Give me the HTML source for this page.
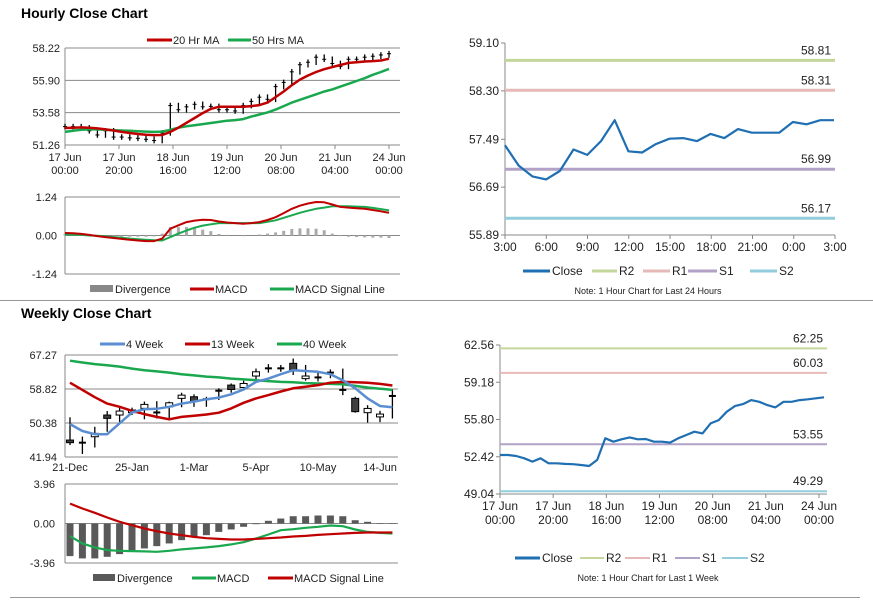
<!DOCTYPE html>
<html><head><meta charset="utf-8">
<style>
body{margin:0;background:#fff;width:873px;height:601px;overflow:hidden;font-family:"Liberation Sans",Arial,sans-serif}
svg{position:absolute;left:0;top:0}
text{font-family:"Liberation Sans",Arial,sans-serif}
</style></head>
<body>
<svg id="s" width="873" height="601">
<text x="21" y="18" font-size="14" font-weight="bold">Hourly Close Chart</text>
<text x="21" y="318" font-size="14" font-weight="bold">Weekly Close Chart</text>
<line x1="0" y1="300.5" x2="873" y2="300.5" stroke="#999"/>
<line x1="10" y1="597.5" x2="860" y2="597.5" stroke="#999"/>
</svg>
<script>
// ---- data ----
const weekClose=[52.58,52.58,52.49,52.28,51.98,52.28,51.83,51.83,51.77,51.74,51.67,51.58,52.13,54.09,53.79,54.0,54.18,54.0,54.03,53.79,53.79,53.70,54.09,54.39,54.69,54.54,55.45,55.75,56.51,57.02,57.20,57.56,57.41,57.11,56.90,57.41,57.41,57.56,57.63,57.72,57.81];
const ma20=[52.48,52.5,52.52,52.5,52.45,52.38,52.3,52.2,52.12,52.05,52.0,51.97,51.98,52.2,52.5,52.85,53.2,53.55,53.85,54.0,54.0,54.0,54.0,54.05,54.12,54.3,54.7,55.1,55.55,55.95,56.25,56.5,56.7,56.85,57.0,57.15,57.2,57.25,57.28,57.32,57.45];
const ma50=[52.2,52.28,52.35,52.38,52.38,52.35,52.32,52.3,52.28,52.25,52.22,52.2,52.22,52.35,52.5,52.6,52.68,52.76,52.84,52.92,53.0,53.05,53.12,53.3,53.45,53.6,53.8,54.05,54.3,54.5,54.7,54.9,55.1,55.25,55.45,55.65,55.85,56.05,56.3,56.5,56.72];
const hMacd=[0.08,0.07,0.05,0.02,-0.02,-0.05,-0.08,-0.11,-0.14,-0.16,-0.18,-0.18,-0.1,0.22,0.33,0.43,0.48,0.51,0.5,0.45,0.42,0.4,0.38,0.4,0.43,0.5,0.59,0.72,0.86,0.96,1.03,1.08,1.07,1.0,0.92,0.9,0.88,0.86,0.82,0.78,0.73];
const hSignal=[0.03,0.03,0.02,0.0,-0.01,-0.03,-0.05,-0.07,-0.1,-0.12,-0.14,-0.15,-0.16,-0.05,0.06,0.16,0.25,0.32,0.36,0.4,0.4,0.4,0.4,0.4,0.4,0.44,0.49,0.57,0.65,0.73,0.8,0.86,0.9,0.94,0.94,0.94,0.93,0.92,0.89,0.85,0.81];
const hTicks=["17 Jun|00:00","17 Jun|20:00","18 Jun|16:00","19 Jun|12:00","20 Jun|08:00","21 Jun|04:00","24 Jun|00:00"];
const hY=[58.22,55.90,53.58,51.26];
const hMY=[1.24,0.00,-1.24];

const dayClose=[57.39,57.05,56.87,56.82,56.96,57.32,57.23,57.46,57.81,57.29,57.27,57.41,57.50,57.51,57.46,57.58,57.51,57.66,57.60,57.60,57.60,57.78,57.74,57.81,57.81];
const dayTicks=["3:00","6:00","9:00","12:00","15:00","18:00","21:00","0:00","3:00"];
const dayY=[59.10,58.30,57.49,56.69,55.89];
const dayLevels=[58.81,58.31,56.99,56.17];

const wkOpen=[46.15,45.5,46.97,52.36,52.36,52.95,54.02,53.0,54.4,56.5,56.9,56.3,58.4,59.8,59.2,62.05,63.96,63.96,65.2,61.4,61.7,62.9,58.6,56.5,52.95,51.9,57.1];
const wkClose=[45.5,45.5,47.81,51.53,53.35,53.6,55.0,53.0,55.4,57.3,55.7,56.3,58.4,58.7,60.2,63.1,63.96,63.96,63.5,62.05,61.7,62.9,58.6,53.2,54.0,52.6,57.1];
const wkHigh=[51.8,47.0,49.45,53.35,54.6,54.2,55.7,55.8,55.7,57.9,57.5,56.9,59.0,60.2,60.9,63.9,65.0,64.8,66.4,64.8,63.1,63.7,63.9,56.9,54.8,53.4,58.7];
const wkLow=[44.9,42.7,44.3,48.2,50.3,52.36,51.3,51.5,51.5,54.3,54.4,54.4,56.1,57.9,58.6,61.0,62.9,63.1,62.3,60.9,60.7,61.5,57.3,52.95,50.5,50.6,51.5];
const ma4=[50.1,48.4,47.6,47.6,50.3,53.0,53.8,53.9,54.4,55.2,55.7,56.3,56.7,57.5,58.7,60.6,61.4,62.5,63.5,63.3,63.1,62.5,61.0,59.0,56.5,54.6,54.3];
const ma13=[60.4,58.6,56.8,55.2,54.4,53.4,52.6,51.9,51.3,51.9,52.2,52.5,52.95,54.0,55.4,56.5,57.3,58.2,59.0,59.4,59.8,60.4,60.6,60.5,60.4,60.1,59.7];
const ma40=[65.85,65.4,65.0,64.7,64.4,63.9,63.5,63.2,62.9,62.5,62.2,61.9,61.7,61.4,61.2,61.0,60.8,60.6,60.5,60.3,60.2,60.1,60.0,59.6,59.2,58.9,58.6];
const wDiv=[-3.27,-3.5,-3.5,-3.34,-3.07,-2.67,-2.5,-2.27,-2.0,-1.67,-1.4,-1.17,-0.84,-0.6,-0.33,-0.07,0.27,0.5,0.73,0.73,0.8,0.8,0.73,0.33,0.17,0.02,-0.03];
const wMacd=[-1.27,-2.0,-2.4,-2.67,-2.74,-2.77,-2.8,-2.84,-2.74,-2.6,-2.5,-2.4,-2.27,-2.1,-1.87,-1.5,-1.1,-0.67,-0.57,-0.43,-0.33,-0.2,-0.27,-0.6,-0.84,-0.94,-1.0];
const wSignal=[2.0,1.5,1.07,0.6,0.17,-0.17,-0.5,-0.77,-1.0,-1.17,-1.34,-1.47,-1.54,-1.6,-1.6,-1.54,-1.47,-1.4,-1.3,-1.24,-1.14,-1.07,-1.0,-0.94,-0.9,-0.9,-0.9];
const wTicks=["21-Dec","25-Jan","1-Mar","5-Apr","10-May","14-Jun"];
const wY=[67.27,58.82,50.38,41.94];
const wMY=[3.96,0.00,-3.96];

const wk1Close=weekClose;
const wk1Y=[62.56,59.18,55.80,52.42,49.04];
const wk1Levels=[62.25,60.03,53.55,49.29];

// ---- helpers ----
const S=document.getElementById('s');const NS='http://www.w3.org/2000/svg';
function mk(tag,attrs,name,txt){const e=document.createElementNS(NS,tag);for(const k in attrs)e.setAttribute(k,attrs[k]);


if(txt!==undefined)e.textContent=txt;S.appendChild(e);return e;}
function lin(v0,v1,p0,p1){return v=>p0+(v-v0)*(p1-p0)/(v1-v0);}
function poly(arr,X,Y,color,w,name){mk('polyline',{points:arr.map((v,i)=>X(i).toFixed(1)+','+Y(v).toFixed(1)).join(' '),fill:'none',stroke:color,'stroke-width':w,'stroke-linejoin':'round'},name);}
function legLine(x1,x2,y,c,w,label,name){mk('line',{x1:x1,x2:x2,y1:y,y2:y,stroke:c,'stroke-width':w},name+'-swatch');mk('text',{x:x2+1,y:y+4,'font-size':11,fill:'#222'},name+'-label',label);}
const GRID='#888';

// ===== Hourly (top-left) =====
{const X=i=>65+i*8.1,Y=lin(58.22,51.26,48,145);
hY.forEach(v=>{mk('line',{x1:65,x2:400,y1:Y(v),y2:Y(v),stroke:GRID,'stroke-width':1},'hourly-gridline');mk('text',{x:60,y:Y(v)+4,'font-size':11,'text-anchor':'end',fill:'#222'},'hourly-y-tick',v.toFixed(2));});
mk('line',{x1:65,x2:65,y1:48,y2:145,stroke:GRID},'hourly-y-axis');
hTicks.forEach((t,i)=>{const x=65+i*54;mk('line',{x1:x,x2:x,y1:145,y2:149,stroke:GRID},'hourly-x-tick');const p=t.split('|');mk('text',{x:x,y:161,'font-size':11,'text-anchor':'middle',fill:'#222'},'hourly-x-label',p[0]);mk('text',{x:x,y:174,'font-size':11,'text-anchor':'middle',fill:'#222'},'hourly-x-label',p[1]);});
weekClose.forEach((v,i)=>{const p=i>0?weekClose[i-1]:v;mk('line',{x1:X(i),x2:X(i),y1:Y(Math.max(p,v)+0.2),y2:Y(Math.min(p,v)-0.2),stroke:'#000','stroke-width':1.3},'hourly-candle');mk('line',{x1:X(i)-2,x2:X(i)+2,y1:Y(v),y2:Y(v),stroke:'#000','stroke-width':1},'hourly-candle-close');});
poly(ma50,X,Y,'#1aa84f',2.5,'ma50-line');poly(ma20,X,Y,'#c00000',2.5,'ma20-line');
legLine(147,172,40,'#c00000',3,'20 Hr MA','legend-ma20');legLine(228,251,40,'#1aa84f',3,'50 Hrs MA','legend-ma50');
const MY=lin(1.24,-1.24,197,274);
hMY.forEach(v=>{mk('line',{x1:65,x2:400,y1:MY(v),y2:MY(v),stroke:GRID},'hourly-macd-gridline');mk('text',{x:57,y:MY(v)+4,'font-size':11,'text-anchor':'end',fill:'#222'},'hourly-macd-y-tick',v.toFixed(2));});
mk('line',{x1:65,x2:65,y1:197,y2:274,stroke:GRID},'hourly-macd-y-axis');
hMacd.forEach((v,i)=>{const d=v-hSignal[i];mk('rect',{x:X(i)-1.5,y:Math.min(MY(0),MY(d)),width:3,height:Math.abs(MY(d)-MY(0)),fill:'#aaa'},'hourly-divergence-bar');});
poly(hSignal,X,MY,'#1aa84f',2,'hourly-signal-line');poly(hMacd,X,MY,'#c00000',2,'hourly-macd-line');
mk('rect',{x:90,y:285,width:23,height:7,fill:'#888'},'legend-divergence-swatch');mk('text',{x:115,y:293,'font-size':11,fill:'#222'},'legend-divergence-label','Divergence');
legLine(190,214,289,'#c00000',3,'MACD','legend-macd');legLine(270,294,289,'#1aa84f',3,'MACD Signal Line','legend-signal');}

// ===== level charts =====
function levelChart(pre,ax,right,ticksY,close,levels,xLabels,xStep,yTop,yBot,dec){
const Y=lin(ticksY[0],ticksY[ticksY.length-1],yTop,yBot),X=i=>ax+i*xStep;
ticksY.forEach(v=>{mk('text',{x:ax-6,y:Y(v)+4,'font-size':12,'text-anchor':'end',fill:'#222'},pre+'-y-tick',v.toFixed(2));mk('line',{x1:ax-4,x2:ax,y1:Y(v),y2:Y(v),stroke:GRID},pre+'-y-tickmark');});
mk('line',{x1:ax,x2:ax,y1:yTop,y2:yBot,stroke:GRID},pre+'-y-axis');mk('line',{x1:ax,x2:right,y1:yBot,y2:yBot,stroke:GRID},pre+'-x-axis');
const cols=['#c4d79b','#e6b9b8','#b3a2c7','#93cddd'],nm=['r2','r1','s1','s2'];
levels.forEach((v,k)=>{mk('line',{x1:ax,x2:right,y1:Y(v),y2:Y(v),stroke:cols[k],'stroke-width':dec?3:2},pre+'-'+nm[k]+'-line');mk('text',{x:right-4,y:Y(v)-6,'font-size':12,'text-anchor':'end',fill:'#222'},pre+'-'+nm[k]+'-value',v.toFixed(2));});
xLabels.forEach((t,i)=>{const x=ax+i*(right-ax-(dec?0:8))/(xLabels.length-1);mk('line',{x1:x,x2:x,y1:yBot,y2:yBot+4,stroke:GRID},pre+'-x-tick');const p=t.split('|');mk('text',{x:x,y:yBot+16,'font-size':12,'text-anchor':'middle',fill:'#222'},pre+'-x-label',p[0]);if(p[1])mk('text',{x:x,y:yBot+30,'font-size':12,'text-anchor':'middle',fill:'#222'},pre+'-x-label',p[1]);});
poly(close,X,Y,'#1f6fb2',2.2,pre+'-close-line');
return Y;}
levelChart('day',505,835,dayY,dayClose,dayLevels,dayTicks,329/24,43,235,true);
[[523,550,'#1f6fb2','Close'],[592,617,'#c4d79b','R2'],[643,670,'#e6b9b8','R1'],[688,717,'#b3a2c7','S1'],[750,777,'#93cddd','S2']].forEach(l=>{mk('line',{x1:l[0],x2:l[1],y1:271,y2:271,stroke:l[2],'stroke-width':3},'day-legend-'+l[3].toLowerCase()+'-swatch');mk('text',{x:l[1]+2,y:275,'font-size':12,fill:'#222'},'day-legend-'+l[3].toLowerCase()+'-label',l[3]);});
mk('text',{x:648,y:294,'font-size':9,'text-anchor':'middle',fill:'#222'},'day-note','Note: 1 Hour Chart for Last 24 Hours');

levelChart('wk',500,827,wk1Y,wk1Close,wk1Levels,hTicks,8.1,345,494,false);
[[515,540,'#1f6fb2','Close'],[580,604,'#c4d79b','R2'],[625,650,'#e6b9b8','R1'],[675,700,'#b3a2c7','S1'],[722,748,'#93cddd','S2']].forEach(l=>{mk('line',{x1:l[0],x2:l[1],y1:558,y2:558,stroke:l[2],'stroke-width':l[3]=='Close'?3:2},'wk-legend-'+l[3].toLowerCase()+'-swatch');mk('text',{x:l[1]+2,y:562,'font-size':12,fill:'#222'},'wk-legend-'+l[3].toLowerCase()+'-label',l[3]);});
mk('text',{x:648,y:581,'font-size':9,'text-anchor':'middle',fill:'#222'},'wk-note','Note: 1 Hour Chart for Last 1 Week');

// ===== Weekly (bottom-left) =====
{const X=i=>70+i*12.4,Y=lin(67.27,41.94,355,457);
wY.forEach(v=>{mk('line',{x1:65,x2:398,y1:Y(v),y2:Y(v),stroke:GRID},'weekly-gridline');mk('text',{x:57,y:Y(v)+4,'font-size':11,'text-anchor':'end',fill:'#222'},'weekly-y-tick',v.toFixed(2));});
mk('line',{x1:65,x2:65,y1:355,y2:457,stroke:GRID},'weekly-y-axis');
wTicks.forEach((t,i)=>{mk('text',{x:X(i*5),y:471,'font-size':11,'text-anchor':'middle',fill:'#222'},'weekly-x-label',t);});
wkOpen.forEach((o,i)=>{const c=wkClose[i],x=X(i);mk('line',{x1:x,x2:x,y1:Y(wkHigh[i]),y2:Y(wkLow[i]),stroke:'#000','stroke-width':1.3},'weekly-candle-wick');
const h=Math.abs(Y(o)-Y(c));if(h<1.5)mk('line',{x1:x-3.5,x2:x+3.5,y1:Y(c),y2:Y(c),stroke:'#000','stroke-width':2},'weekly-candle-doji');
else mk('rect',{x:x-3.5,y:Math.min(Y(o),Y(c)),width:7,height:h,fill:c<o?'#404040':'#fff',stroke:'#000','stroke-width':1},'weekly-candle-body');});
poly(ma40,X,Y,'#1aa84f',2.5,'ma40-line');poly(ma13,X,Y,'#c00000',2.5,'ma13-line');poly(ma4,X,Y,'#5b8ed0',2.5,'ma4-line');
legLine(100,125,344,'#5b8ed0',3,'4 Week','legend-4week');legLine(185,210,344,'#c00000',3,'13 Week','legend-13week');legLine(277,302,344,'#1aa84f',3,'40 Week','legend-40week');
const MY=lin(3.96,-3.96,484,563);
wMY.forEach(v=>{mk('line',{x1:65,x2:398,y1:MY(v),y2:MY(v),stroke:GRID},'weekly-macd-gridline');mk('text',{x:55,y:MY(v)+4,'font-size':11,'text-anchor':'end',fill:'#222'},'weekly-macd-y-tick',v.toFixed(2));});
mk('line',{x1:65,x2:65,y1:484,y2:563,stroke:GRID},'weekly-macd-y-axis');
wDiv.forEach((d,i)=>{mk('rect',{x:X(i)-3.5,y:Math.min(MY(0),MY(d)),width:7,height:Math.max(0.5,Math.abs(MY(d)-MY(0))),fill:'#595959'},'weekly-divergence-bar');});
poly(wMacd,X,MY,'#1aa84f',2.2,'weekly-macd-line');poly(wSignal,X,MY,'#c00000',2.2,'weekly-signal-line');
mk('rect',{x:93,y:574,width:22,height:7,fill:'#595959'},'weekly-legend-divergence-swatch');mk('text',{x:117,y:582,'font-size':11,fill:'#222'},'weekly-legend-divergence-label','Divergence');
legLine(192,216,578,'#1aa84f',3,'MACD','weekly-legend-macd');legLine(268,293,578,'#c00000',3,'MACD Signal Line','weekly-legend-signal');}
</script>
</body></html>
